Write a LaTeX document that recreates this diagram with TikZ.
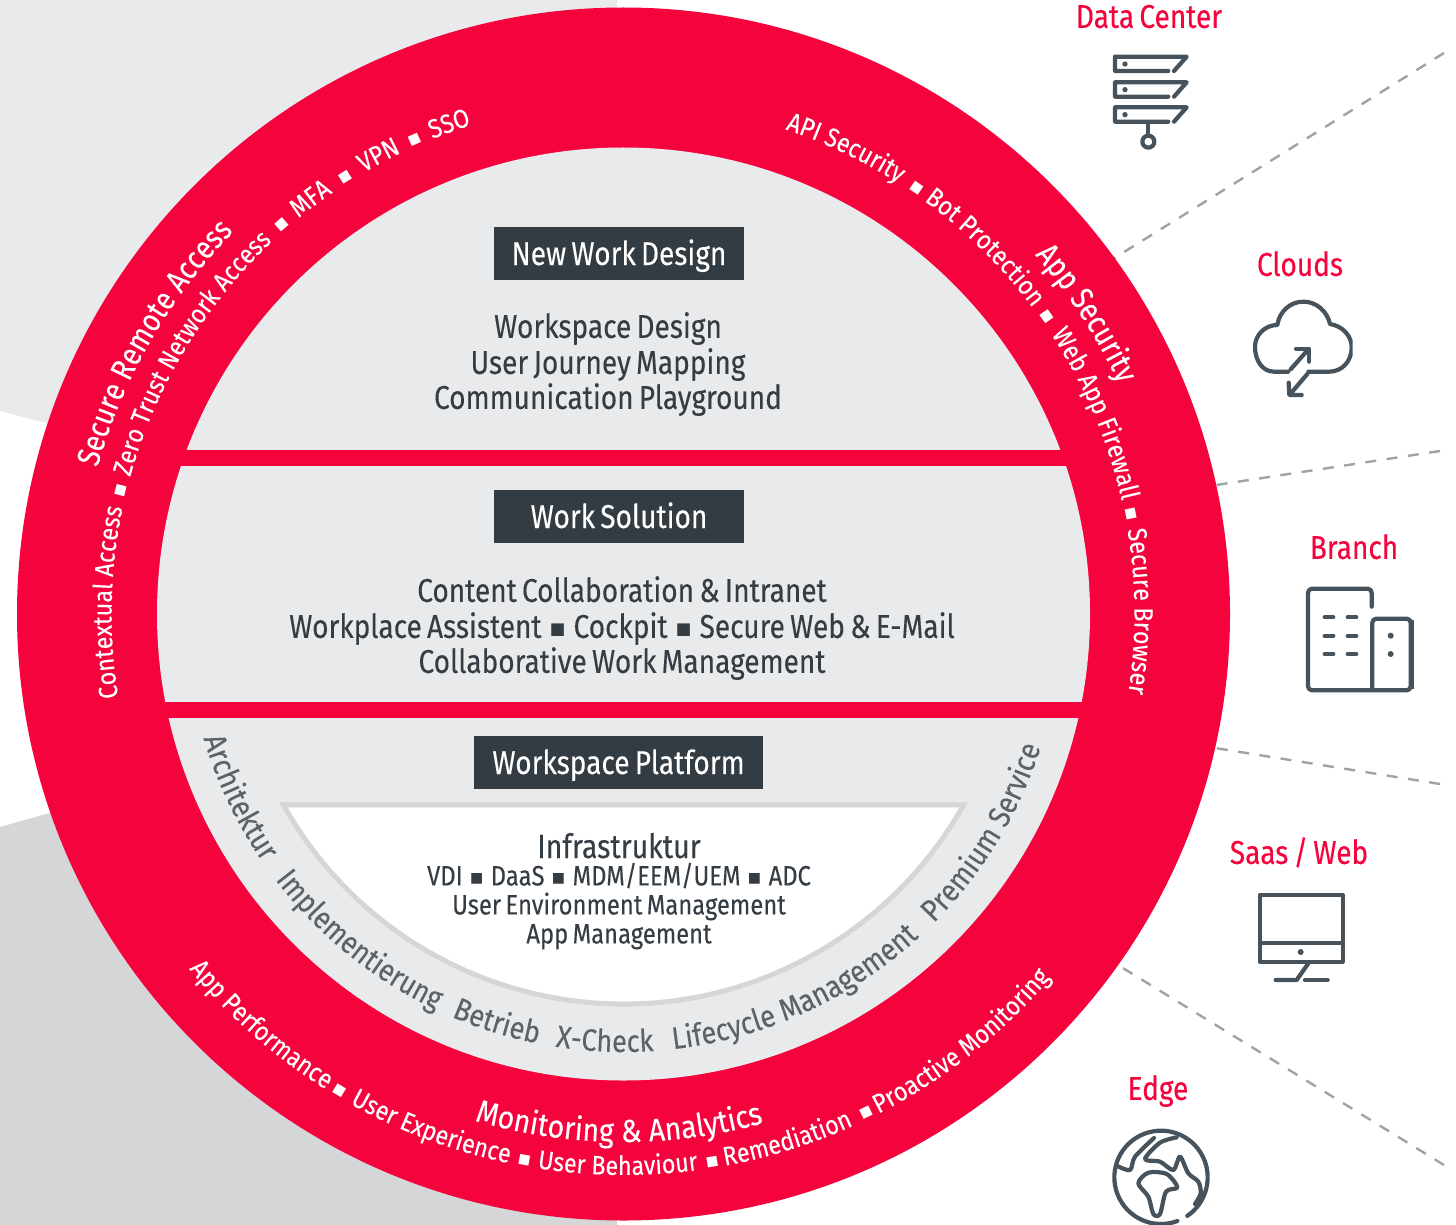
\documentclass[tikz,border=0pt]{standalone}
\usepackage{fontspec}
\usetikzlibrary{decorations.text}
\setmainfont{Fira Sans}[FakeStretch=0.85,WordSpace=0.7,FakeBold=0.15]
\newfontfamily\ringA{Fira Sans}[FakeStretch=0.85,FakeBold=0.1]
\newfontfamily\ringB{Fira Sans}[FakeStretch=0.89,FakeBold=0.1]
\newfontfamily\ringC{Fira Sans}[FakeStretch=0.88,FakeBold=0.1]
\newfontfamily\ringG{Fira Sans}[FakeStretch=0.86,FakeBold=0.1]
\newfontfamily\sqfont{DejaVu Sans}[Scale=0.5]
\newcommand\sqm{\raisebox{0.1em}{\sqfont ■}}
\newcommand\sqk{\hspace{3pt}\sqm\hspace{3pt}}
\definecolor{brandred}{HTML}{F5033D}
\definecolor{lightbg}{HTML}{E9EAEC}
\definecolor{darkbg}{HTML}{D5D6D8}
\definecolor{slatebox}{HTML}{333B43}
\definecolor{bodyink}{HTML}{343C44}
\definecolor{greyink}{HTML}{5B6369}
\definecolor{iconink}{HTML}{46535C}
\definecolor{dashgrey}{HTML}{9FA3A5}
\newcommand\fsz[1]{\fontsize{#1}{#1}\selectfont}
\newcommand\ringtext[5]{\path[decorate,decoration={text along path,text align={center},text={|#4|#5}}] (C) ++(#2:#1) arc[start angle=#2,end angle=#3,radius=#1];}
\newcommand\smallfmt{\ringC\fsz{26.5}\color{white}}
% #1 radius, #2 middle angle, #3 text: clockwise on the page (upper bands)
\newcommand\topbit[3]{\pgfmathsetmacro\sa{#2-40}\pgfmathsetmacro\ea{#2+40}\ringtext{#1}{\sa}{\ea}{\smallfmt}{#3}}
% the same, anticlockwise on the page (lower band)
\newcommand\botbit[3]{\pgfmathsetmacro\sa{#2+40}\pgfmathsetmacro\ea{#2-40}\ringtext{#1}{\sa}{\ea}{\smallfmt}{#3}}
\tikzset{
  headbox/.style={fill=slatebox,text=white,inner sep=0pt,minimum height=53pt,font=\fsz{33},text height=28pt,text depth=5pt},
  bodyline/.style={inner sep=0pt,text=bodyink,font=\fsz{33},text height=26.4pt,text depth=6.6pt},
  infrahead/.style={inner sep=0pt,text=bodyink,font=\fsz{33.5},text height=26.8pt,text depth=6.7pt},
  infraline/.style={inner sep=0pt,text=bodyink,font=\fsz{28},text height=22.4pt,text depth=5.6pt},
  sitelabel/.style={inner sep=0pt,text=brandred,font=\fsz{33},text height=26.4pt,text depth=6.6pt},
  sitelink/.style={draw=dashgrey,line width=2.4pt,dash pattern=on 11pt off 10.5pt},
  icon/.style={draw=iconink,line width=4.2pt,line cap=round,line join=round},
}
\begin{document}
\begin{tikzpicture}[x=1pt,y=-1pt]
\useasboundingbox (0,0) rectangle (1456,1225);
\fill[white] (0,0) rectangle (1456,1225);
\coordinate (C) at (623.5,614);
% backdrop
\fill[lightbg] (0,0) -- (617,0) -- (617,614) -- (50,424) -- (0,411) -- cycle;
\fill[darkbg] (0,827) -- (50,813) -- (617,660) -- (617,1225) -- (0,1225) -- cycle;
% dashed links
\coordinate (ringA) at (1100,267); \coordinate (endA) at (1444,53);
\coordinate (ringB) at (1190,489); \coordinate (endB) at (1440,451);
\coordinate (ringC) at (1190,744); \coordinate (endC) at (1440,784);
\coordinate (ringD) at (1100,954); \coordinate (endD) at (1444,1165);
\draw[sitelink] (endA) -- (ringA);
\draw[sitelink] (endB) -- (ringB);
\draw[sitelink] (endC) -- (ringC);
\draw[sitelink] (endD) -- (ringD);
% rings
\fill[brandred] (C) circle[radius=606.5];
\fill[lightbg] (C) circle[radius=466.5];
\begin{scope}
\clip (C) circle[radius=467];
\fill[brandred] (100,450) rectangle (1150,466);
\fill[brandred] (100,702) rectangle (1150,718);
\end{scope}
% inner segment
\filldraw[fill=white,draw=darkbg,line width=5pt,miter limit=10]
  (C) ++(150.7:390) arc[start angle=150.7,end angle=29.3,radius=390] -- cycle;
% head boxes
\node[headbox,minimum width=250pt] (h1) at (619,253.5) {New Work Design};
\node[headbox,minimum width=250pt] (h2) at (619,516.5) {Work Solution};
\node[headbox,minimum width=289pt] (h3) at (618.5,762.5) {Workspace Platform};
% body
\node[bodyline] (a1) at (608,328) {Workspace Design};
\node[bodyline] (a2) at (608,364) {User Journey Mapping};
\node[bodyline] (a3) at (608,399) {Communication Playground};
\node[bodyline] (b1) at (622,592) {Content Collaboration \& Intranet};
\node[bodyline] (b2) at (622,628) {Workplace Assistent \sqk{} Cockpit \sqk{} Secure Web \& E-Mail};
\node[bodyline] (b3) at (622,663) {Collaborative Work Management};
\node[infrahead] (c0) at (619,848) {Infrastruktur};
\node[infraline] (c1) at (619,877) {VDI \sqk{} DaaS \sqk{} MDM/EEM/UEM \sqk{} ADC};
\node[infraline] (c2) at (619,906) {User Environment Management};
\node[infraline] (c3) at (619,935) {App Management};
% ring text, outer band: headings
\ringtext{546}{180}{240}{\ringA\fsz{32}\color{white}}{Secure Remote Access}
\ringtext{546}{300}{354}{\ringA\fsz{32}\color{white}}{App Security}
\ringtext{528}{120}{61}{\ringB\fsz{32}\color{white}}{Monitoring {\&} Analytics}
% ring text, outer band: left
\topbit{512}{181.3}{Contextual Access}
\topbit{512}{193.8}{{\sqm}}
\topbit{512}{211.1}{Zero Trust Network Access}
\topbit{512}{228.7}{{\sqm}}
\topbit{512}{233}{MFA}
\topbit{512}{237.5}{{\sqm}}
\topbit{512}{241.9}{VPN}
\topbit{512}{246.2}{{\sqm}}
\topbit{512}{250.4}{SSO}
% ring text, outer band: right
\topbit{511}{295.5}{API Security}
\topbit{511}{304.5}{{\sqm}}
\topbit{511}{314.6}{Bot Protection}
\topbit{511}{324.9}{{\sqm}}
\topbit{511}{337}{Web App Firewall}
\topbit{511}{348.8}{{\sqm}}
\topbit{511}{359.7}{Secure Browser}
% ring text, outer band: bottom
\botbit{561}{131.4}{App Performance}
\botbit{561}{120.8}{{\sqm}}
\botbit{561}{110.5}{User Experience}
\botbit{561}{100.3}{{\sqm}}
\botbit{561}{90.6}{User Behaviour}
\botbit{561}{80.8}{{\sqm}}
\botbit{561}{72.7}{Remediation}
\botbit{561}{64.1}{{\sqm}}
\botbit{561}{51.7}{Proactive Monitoring}
% ring text, inner band
\ringtext{438}{178}{131}{\ringC\fsz{31}\color{greyink}}{Architektur}
\ringtext{438}{160}{98}{\ringG\fsz{31}\color{greyink}}{Implementierung}
\ringtext{438}{125.7}{88.7}{\ringC\fsz{31}\color{greyink}}{Betrieb}
\ringtext{438}{110}{75}{\ringC\fsz{31}\color{greyink}}{X-Check}
\ringtext{438}{95}{36}{\ringC\fsz{31}\color{greyink}}{Lifecycle Management}
\ringtext{438}{59.3}{3.3}{\ringC\fsz{31}\color{greyink}}{Premium Service}
% site labels
\node[sitelabel] (s1) at (1149,18) {Data Center};
\node[sitelabel] (s2) at (1300,266) {Clouds};
\node[sitelabel] (s3) at (1354,549) {Branch};
\node[sitelabel] (s4) at (1299,854) {Saas / Web};
\node[sitelabel] (s5) at (1158,1090) {Edge};
% data centre icon
\begin{scope}[shift={(1050,0)},scale=1/3]
\foreach \d in {0,77,152}{
  \draw[icon] (355,213+\d) -- (195,213+\d) -- (195,170+\d) -- (410,170+\d) -- (372,213+\d);
  \fill[iconink] (225,192+\d) circle[radius=8];
}
\draw[icon] (295,367) -- (295,405);
\draw[icon] (295,425) circle[radius=18];
\end{scope}
% cloud icon
\begin{scope}[shift={(1050,0)},scale=1/3]
\clip (560,880) rectangle (908,1200);
\draw[icon] (715,1115) -- (672,1115) .. controls (636,1115) and (615,1080) .. (615,1040)
  .. controls (615,1005) and (645,975) .. (682,975)
  .. controls (688,935) and (720,905) .. (760,905)
  .. controls (800,905) and (832,935) .. (840,972)
  .. controls (878,978) and (905,1008) .. (905,1042)
  .. controls (905,1085) and (875,1115) .. (838,1115) -- (775,1115);
\draw[icon] (722,1108) -- (775,1048);
\draw[icon] (738,1046) -- (778,1046) -- (778,1085);
\draw[icon] (772,1122) -- (720,1183);
\draw[icon] (716,1148) -- (718,1185) -- (755,1185);
\end{scope}
% branch icon
\begin{scope}[shift={(1100,520)},scale=1/3]
\draw[icon,rounded corners=4pt] (815,260) -- (815,206) -- (624,206) -- (624,511) -- (932,511) -- (932,296) -- (817,296) -- (817,511);
\draw[icon,line width=5pt,line cap=butt] (934,300) -- (934,508);
\foreach \y in {292,347,402}{
  \draw[icon] (674,\y) -- (700,\y);
  \draw[icon] (743,\y) -- (769,\y);
}
\fill[iconink] (872,347) circle[radius=9];
\fill[iconink] (872,402) circle[radius=9];
\end{scope}
% monitor icon
\begin{scope}[shift={(1100,520)},scale=1/3]
\draw[icon] (480,1125) rectangle (728,1325);
\draw[icon] (480,1270) -- (728,1270);
\fill[iconink] (602,1296) circle[radius=9];
\draw[icon] (625,1330) -- (590,1380) -- (527,1380);
\draw[icon] (615,1380) -- (683,1380);
\end{scope}
% globe icon
\begin{scope}[shift={(1080,1060)},scale=1/3]
\clip (80,200) rectangle (389,495);
\coordinate (G) at (243,352);
\draw[icon] (G) ++(69.5:140) arc[start angle=69.5,end angle=415.7,radius=140];
\draw[icon,smooth] plot coordinates {(112,318) (150,330) (165,290) (222,234)};
\draw[icon,smooth] plot coordinates {(290,232) (240,248) (195,297) (240,305) (280,330) (300,290) (325,340) (355,365) (362,400) (345,432)};
\draw[icon,smooth cycle] plot coordinates {(205,338) (260,342) (292,382) (258,395) (240,462) (220,462) (205,410) (175,370)};
\end{scope}
\end{tikzpicture}
\end{document}
